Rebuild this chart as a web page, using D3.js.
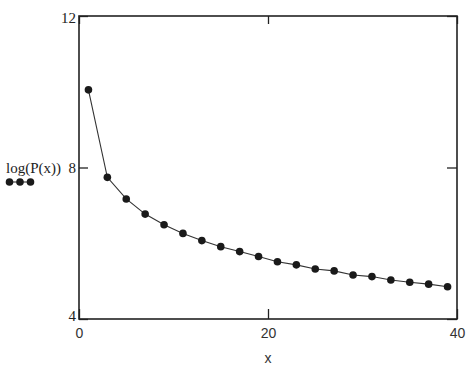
<!DOCTYPE html>
<html>
<head>
<meta charset="utf-8">
<script src="https://cdn.jsdelivr.net/npm/d3@7"></script>
<style>
  body { margin: 0; background: #fff; }
  .yaxis text { font-family: "Liberation Serif", serif; font-size: 15px; fill: #222; }
  .xaxis text { font-family: "Liberation Sans", sans-serif; font-size: 14px; fill: #333; }
</style>
</head>
<body>
<div id="chart"></div>
<script>
// values
var xs = [1, 3, 5, 7, 9, 11, 13, 15, 17, 19, 21, 23, 25, 27, 29, 31, 33, 35, 37, 39];
var logP = [10.05, 7.74, 7.17, 6.77, 6.49, 6.26, 6.07, 5.91, 5.78, 5.65,
            5.51, 5.43, 5.32, 5.27, 5.16, 5.12, 5.03, 4.97, 4.92, 4.85];
var xTicks = [0, 20, 40];
var yTicks = [4, 8, 12];

var svgwidth = 473, svgheight = 375;
var margin = {top: 16, right: 16, bottom: 56, left: 79},
    width = svgwidth - margin.left - margin.right,
    height = svgheight - margin.top - margin.bottom;

var data = xs.map(function(d, i) { return {x: d, y: logP[i]}; });

var x = d3.scaleLinear().domain([0, 40]).range([0, width]);
var y = d3.scaleLinear().domain([4, 12]).range([height, 0]);

var svg = d3.select("#chart").append("svg")
    .attr("width", svgwidth)
    .attr("height", svgheight)
  .append("g")
    .attr("transform", "translate(" + margin.left + "," + margin.top + ")");

// inward ticks on all four sides, like the original
var xAxis = d3.axisBottom(x).tickValues(xTicks).tickSizeInner(-10).tickSizeOuter(0).tickPadding(9);
var yAxis = d3.axisLeft(y).tickValues(yTicks).tickSizeInner(-9).tickSizeOuter(0).tickPadding(3);

svg.append("g")
    .attr("class", "x axis xaxis")
    .attr("transform", "translate(0," + height + ")")
    .call(xAxis)
    .call(g => g.select(".domain").remove());

svg.append("g")
    .attr("class", "y axis yaxis")
    .call(yAxis)
    .call(g => g.select(".domain").remove())
    .selectAll("text")
    .attr("dy", function(d) { return d == 12 ? "0.45em" : d == 4 ? "0.1em" : "0.32em"; });

// top and right ticks, no labels
svg.append("g")
    .call(d3.axisTop(x).tickValues(xTicks).tickSizeInner(-8).tickSizeOuter(0).tickFormat(""))
    .call(g => g.select(".domain").remove());
svg.append("g")
    .attr("transform", "translate(" + width + ",0)")
    .call(d3.axisRight(y).tickValues(yTicks).tickSizeInner(-10).tickSizeOuter(0).tickFormat(""))
    .call(g => g.select(".domain").remove());

svg.selectAll(".tick line").attr("stroke", "#222").attr("stroke-width", 1.3);

// frame
svg.append("rect")
    .attr("x", 0).attr("y", 0)
    .attr("width", width).attr("height", height)
    .attr("fill", "none")
    .attr("stroke", "#222")
    .attr("stroke-width", 1.6);

// series
var line = d3.line().x(d => x(d.x)).y(d => y(d.y));
svg.append("path")
    .datum(data)
    .attr("fill", "none")
    .attr("stroke", "#333")
    .attr("stroke-width", 1.1)
    .attr("d", line);

svg.selectAll(".dot")
    .data(data)
  .enter().append("circle")
    .attr("class", "dot")
    .attr("cx", d => x(d.x))
    .attr("cy", d => y(d.y))
    .attr("r", 3.8)
    .style("fill", "#1a1a1a");

// x label
svg.append("text")
    .attr("x", x(20))
    .attr("y", height + 44)
    .attr("text-anchor", "middle")
    .style("font-family", "Liberation Sans, sans-serif")
    .style("font-size", "14px")
    .style("fill", "#333")
    .text("x");

// y label with legend markers, left of the axis
var leg = d3.select("svg").append("g");
leg.append("text")
    .attr("x", 6)
    .attr("y", 173)
    .style("font-family", "Liberation Serif, serif")
    .style("font-size", "15px")
    .style("fill", "#222")
    .text("log(P(x))");
leg.append("line")
    .attr("x1", 9).attr("x2", 31)
    .attr("y1", 182).attr("y2", 182)
    .attr("stroke", "#333").attr("stroke-width", 1.1);
leg.selectAll("circle")
    .data([9.5, 20, 30.5])
  .enter().append("circle")
    .attr("cx", d => d)
    .attr("cy", 182)
    .attr("r", 3.8)
    .style("fill", "#1a1a1a");
</script>
</body>
</html>
